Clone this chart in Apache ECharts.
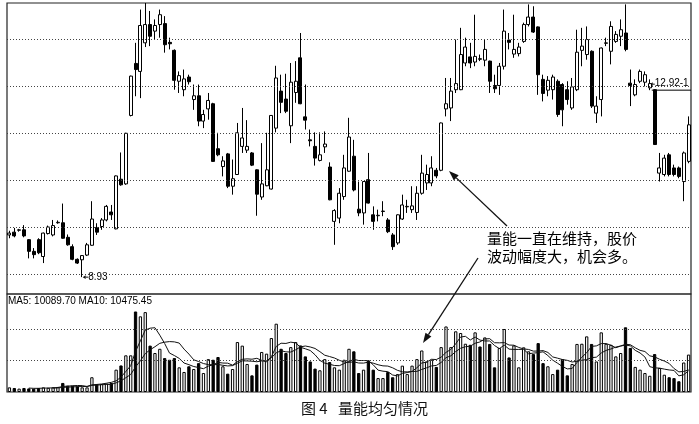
<!DOCTYPE html>
<html>
<head>
<meta charset="utf-8">
<title>量能均匀情况</title>
<script src="https://cdn.jsdelivr.net/npm/echarts@6/dist/echarts.min.js"></script>
<style>
  html, body { margin: 0; padding: 0; background: #fff; }
  #main { width: 699px; height: 424px; }
</style>
</head>
<body>
<div id="main"></div>
<script>
// 日K线 [开, 收, 低, 高]
var candles = [
  [9.83, 9.87, 9.76, 9.92], [9.89, 9.81, 9.78, 9.98], [9.93, 9.94, 9.90, 9.96], [9.94, 9.81, 9.78, 10.04],
  [9.73, 9.48, 9.33, 9.74], [9.48, 9.41, 9.33, 9.55], [9.73, 9.45, 9.42, 9.76], [9.37, 9.87, 9.23, 9.88],
  [9.86, 10.00, 9.84, 10.03], [9.83, 10.03, 9.80, 10.15], [10.09, 10.10, 10.07, 10.14], [10.09, 9.76, 9.75, 10.50],
  [9.78, 9.62, 9.60, 9.84], [9.58, 9.31, 9.29, 9.63], [9.31, 9.23, 9.21, 9.33], [9.30, 9.39, 8.93, 9.40],
  [9.40, 9.62, 9.38, 9.66], [9.61, 10.17, 9.60, 10.55], [9.99, 9.89, 9.83, 10.08], [10.01, 10.15, 9.94, 10.19],
  [10.15, 10.44, 10.12, 10.47], [10.32, 10.26, 10.15, 10.47], [9.96, 11.09, 9.95, 11.10], [11.02, 10.90, 10.88, 11.59],
  [10.92, 12.00, 10.90, 12.01], [12.38, 13.22, 12.36, 13.23], [13.49, 13.36, 12.79, 13.93], [13.32, 14.30, 12.75, 14.64],
  [13.93, 14.32, 13.84, 14.78], [14.32, 14.07, 13.86, 14.61], [14.18, 14.30, 14.00, 14.43], [14.32, 14.53, 14.04, 14.64],
  [14.34, 13.89, 13.72, 14.50], [13.94, 13.91, 13.79, 14.04], [13.77, 13.13, 12.93, 13.79], [13.11, 13.23, 12.86, 13.32],
  [12.93, 13.16, 12.79, 13.36], [13.20, 13.10, 13.04, 13.25], [12.72, 12.80, 12.50, 13.04], [12.80, 12.26, 12.15, 13.04],
  [12.26, 12.40, 12.11, 12.50], [12.52, 12.70, 12.29, 12.86], [12.63, 11.40, 11.39, 12.65], [11.67, 11.54, 11.51, 12.01],
  [11.29, 11.41, 11.08, 11.51], [11.56, 10.87, 10.83, 11.58], [10.87, 11.03, 10.69, 11.44], [11.12, 12.01, 11.11, 12.22],
  [11.72, 11.90, 11.58, 12.54], [11.64, 11.72, 11.58, 12.28], [11.58, 11.32, 11.30, 11.60], [11.22, 10.70, 10.24, 11.23],
  [10.64, 10.92, 10.58, 11.79], [10.88, 11.22, 10.87, 12.01], [10.81, 12.38, 10.80, 12.39], [12.11, 13.18, 12.02, 13.44],
  [12.90, 12.66, 12.43, 13.25], [12.73, 12.47, 12.43, 13.27], [12.16, 13.09, 11.79, 13.50], [12.87, 13.11, 12.65, 13.54],
  [13.61, 12.63, 12.62, 14.14], [12.35, 12.28, 12.08, 13.04], [11.86, 11.84, 11.72, 12.08], [11.72, 11.47, 11.31, 12.02],
  [11.42, 11.54, 11.40, 12.02], [11.71, 11.77, 11.58, 12.04], [11.28, 10.58, 10.57, 11.38], [10.12, 10.35, 9.62, 10.38],
  [10.19, 10.72, 10.08, 10.83], [10.65, 11.26, 10.58, 11.54], [11.19, 11.92, 11.18, 12.33], [11.51, 10.79, 10.76, 11.86],
  [10.38, 10.30, 10.23, 10.97], [10.30, 10.97, 10.05, 10.98], [11.01, 10.51, 10.50, 11.58], [10.26, 10.12, 9.94, 10.44],
  [10.24, 10.25, 10.12, 10.37], [10.33, 10.34, 10.23, 10.55], [10.15, 9.90, 9.87, 10.19], [9.83, 9.58, 9.51, 9.87],
  [9.66, 10.26, 9.62, 10.27], [10.17, 10.47, 10.15, 10.69], [10.43, 10.44, 10.30, 10.58], [10.37, 10.45, 10.30, 10.87],
  [10.31, 10.72, 10.15, 10.87], [10.72, 11.15, 10.69, 11.54], [10.94, 11.12, 10.79, 11.33], [10.94, 11.26, 10.87, 11.51],
  [11.21, 11.09, 11.04, 11.26], [11.21, 12.22, 11.19, 12.23], [12.52, 12.63, 12.36, 13.18], [12.54, 12.90, 12.26, 13.18],
  [12.93, 13.06, 12.86, 14.00], [12.93, 13.68, 12.92, 14.25], [13.50, 13.84, 13.43, 14.04], [13.63, 13.50, 13.39, 13.93],
  [13.52, 13.64, 13.43, 14.53], [13.59, 13.58, 13.54, 13.68], [13.56, 13.79, 13.43, 14.00], [13.54, 13.11, 12.86, 13.55],
  [13.02, 12.95, 12.86, 13.25], [13.02, 13.43, 12.82, 13.50], [13.43, 14.18, 13.36, 14.64], [13.99, 13.94, 13.79, 14.14],
  [13.69, 13.79, 13.61, 14.53], [13.70, 13.84, 13.64, 13.93], [13.96, 14.32, 13.93, 14.36], [14.32, 14.48, 14.28, 14.75],
  [14.48, 14.16, 14.14, 14.71], [14.27, 13.25, 12.82, 14.28], [13.15, 12.85, 12.68, 13.25], [12.92, 13.13, 12.79, 13.22],
  [12.93, 13.20, 12.72, 13.25], [13.11, 12.40, 12.35, 13.15], [13.04, 12.50, 12.15, 13.07], [12.93, 12.72, 12.61, 13.11],
  [12.54, 12.99, 12.50, 13.18], [12.93, 13.73, 12.90, 14.21], [13.77, 13.86, 13.43, 14.25], [13.68, 14.00, 13.57, 14.28],
  [13.75, 12.58, 12.54, 13.77], [12.43, 12.58, 12.22, 12.79], [12.72, 13.82, 12.36, 13.83], [13.92, 13.93, 13.86, 14.04],
  [13.75, 14.28, 13.47, 14.39], [13.96, 14.11, 13.93, 14.18], [14.07, 14.21, 13.86, 14.43], [14.14, 13.79, 13.75, 14.75],
  [13.07, 13.02, 12.58, 13.36], [12.82, 13.04, 12.79, 13.15], [13.11, 13.32, 13.07, 13.36], [13.09, 13.25, 13.00, 13.32],
  [12.97, 13.06, 12.92, 13.15], [12.93, 11.76, 11.75, 12.94], [11.15, 11.26, 10.97, 11.58], [11.12, 11.47, 11.08, 11.54],
  [11.54, 11.12, 11.08, 11.58], [11.26, 11.12, 11.08, 11.33], [11.26, 11.08, 11.04, 11.29], [10.97, 11.58, 10.55, 11.61],
  [11.40, 12.18, 11.36, 12.36]
];
// 成交量
var volumes = [
  2200, 1900, 1600, 1900, 1700, 1600, 1900, 2200, 2000, 2200,
  2400, 4300, 3000, 3000, 2700, 2200, 2200, 7000, 3800, 3800,
  4000, 4300, 10600, 12600, 17400, 17400, 38200, 35900, 37900, 22000,
  18500, 20500, 16100, 15300, 16100, 11700, 9500, 12200, 10900, 13700,
  9000, 15600, 15300, 16600, 12200, 8700, 10900, 23700, 22000, 13300,
  7900, 13000, 19000, 18200, 25600, 32400, 20500, 18500, 21300, 23700,
  22100, 16900, 14500, 11100, 10300, 15600, 14200, 11700, 10600, 15300,
  20500, 19300, 9000, 10600, 15000, 10600, 6600, 6600, 9500, 7000,
  8500, 12500, 8500, 12500, 15600, 19700, 14500, 15300, 11900, 21300,
  31100, 21300, 28800, 28000, 22900, 22400, 28300, 21600, 25900, 22800,
  11700, 20900, 29900, 16400, 22100, 11700, 21200, 19300, 18000, 23200,
  13700, 12200, 8500, 10600, 15600, 7900, 13300, 22800, 22900, 26400,
  22800, 14500, 28300, 22900, 22400, 16900, 18500, 30700, 20900, 11900,
  10600, 9000, 7700, 18000, 11400, 8200, 7000, 6600, 5100, 14000,
  17750
];
var priceLines = [9, 10, 11, 12, 13, 14];
var volumeLines = [15000, 30000];
var lowMark = { index: 15, value: 8.93 };
var gapMark = { index: 132, value: 12.92, text: '12.92-1' };
var maText = 'MA5: 10089.70 MA10: 10475.45';
var note = ['量能一直在维持，股价', '波动幅度大，机会多。'];
var caption = ['图 4', '量能均匀情况'];

var days = candles.map(function (c, i) { return String(i + 1); });

function calcMA(n) {
  var out = [];
  for (var i = 0; i < volumes.length; i++) {
    if (i < n - 1) { out.push('-'); continue; }
    var sum = 0;
    for (var j = 0; j < n; j++) sum += volumes[i - j];
    out.push(+(sum / n).toFixed(2));
  }
  return out;
}

var volData = volumes.map(function (v, i) {
  var up = candles[i][1] >= candles[i][0];
  return {
    value: v,
    itemStyle: up
      ? { color: '#fff', borderColor: '#000', borderWidth: 1 }
      : { color: '#000', borderColor: '#000', borderWidth: 1 }
  };
});

// 箭头：线 + 实心箭头
function arrow(x1, y1, x2, y2, len, w, lw) {
  var a = Math.atan2(y2 - y1, x2 - x1);
  var bx = x2 - len * Math.cos(a), by = y2 - len * Math.sin(a);
  return [
    { type: 'line', shape: { x1: x1, y1: y1, x2: bx, y2: by }, style: { stroke: '#111', lineWidth: lw } },
    { type: 'polygon', shape: { points: [[x2, y2], [bx + w * Math.sin(a), by - w * Math.cos(a)], [bx - w * Math.sin(a), by + w * Math.cos(a)]] }, style: { fill: '#111' } }
  ];
}

var dotted = { color: '#444', type: [1, 2], width: 1 };
var cjk = '"Noto Sans CJK SC", sans-serif';
var gridRight = 691;

var chart = echarts.init(document.getElementById('main'));
chart.setOption({
  animation: false,
  backgroundColor: '#fff',
  grid: [
    { left: 7, top: 3, width: 684, height: 291, show: true, borderColor: '#222', borderWidth: 1.2, backgroundColor: 'transparent' },
    { left: 7, top: 294, width: 684, height: 98, show: true, borderColor: '#222', borderWidth: 1.2, backgroundColor: 'transparent' }
  ],
  xAxis: [
    { type: 'category', data: days, gridIndex: 0, boundaryGap: true, axisLine: { show: false }, axisTick: { show: false }, axisLabel: { show: false }, splitLine: { show: false } },
    { type: 'category', data: days, gridIndex: 1, boundaryGap: true, axisLine: { show: false }, axisTick: { show: false }, axisLabel: { show: false }, splitLine: { show: false } }
  ],
  yAxis: [
    { type: 'value', gridIndex: 0, min: 8.57, max: 14.78, axisLine: { show: false }, axisTick: { show: false }, axisLabel: { show: false }, splitLine: { show: false } },
    { type: 'value', gridIndex: 1, min: 0, max: 46500, axisLine: { show: false }, axisTick: { show: false }, axisLabel: { show: false }, splitLine: { show: false } }
  ],
  series: [
    {
      type: 'candlestick',
      xAxisIndex: 0,
      yAxisIndex: 0,
      data: candles,
      barWidth: '72%',
      itemStyle: { color: '#fff', color0: '#000', borderColor: '#000', borderColor0: '#000', borderWidth: 1 },
      markLine: {
        silent: true,
        symbol: ['none', 'none'],
        label: { show: false },
        lineStyle: dotted,
        data: priceLines.map(function (v) { return { yAxis: v }; })
      }
    },
    {
      type: 'bar',
      xAxisIndex: 1,
      yAxisIndex: 1,
      data: volData,
      barWidth: '68%',
      markLine: {
        silent: true,
        symbol: ['none', 'none'],
        label: { show: false },
        lineStyle: dotted,
        data: volumeLines.map(function (v) { return { yAxis: v }; })
      }
    },
    { type: 'line', xAxisIndex: 1, yAxisIndex: 1, data: calcMA(5), showSymbol: false, lineStyle: { color: '#111', width: 1 } },
    { type: 'line', xAxisIndex: 1, yAxisIndex: 1, data: calcMA(10), showSymbol: false, lineStyle: { color: '#111', width: 1 } }
  ]
});

// 标注位置由坐标轴换算
var lowPt = chart.convertToPixel({ seriesIndex: 0 }, [lowMark.index, lowMark.value]);
var gapPt = chart.convertToPixel({ seriesIndex: 0 }, [gapMark.index, gapMark.value]);

var marks = [
  { type: 'text', left: 8, top: 296, style: { text: maText, font: '10px "Liberation Sans"', fill: '#000' } },
  { type: 'text', left: 487, top: 231, style: { text: note[0], font: '15px ' + cjk, fill: '#000' } },
  { type: 'text', left: 487, top: 249, style: { text: note[1], font: '15px ' + cjk, fill: '#000' } },
  { type: 'text', left: 301, top: 401, style: { text: caption[0], font: '15px ' + cjk, fill: '#111' } },
  { type: 'text', left: 338, top: 401, style: { text: caption[1], font: '15px ' + cjk, fill: '#111' } },
  // 最低价
  { type: 'text', x: lowPt[0] + 6, y: lowPt[1], style: { text: lowMark.value.toFixed(2), font: '10px "Liberation Sans"', fill: '#000', verticalAlign: 'middle' } },
  // 缺口价
  { type: 'line', shape: { x1: gapPt[0] + 2, y1: gapPt[1], x2: gridRight, y2: gapPt[1] }, style: { stroke: '#000', lineWidth: 1 } },
  { type: 'text', x: gapPt[0] + 5, y: gapPt[1] - 2, style: { text: gapMark.text, font: '10px "Liberation Sans"', fill: '#000', verticalAlign: 'bottom' } }
];
marks = marks
  .concat(arrow(lowPt[0] + 6, lowPt[1], lowPt[0] + 0.5, lowPt[1], 3, 1.8, 1))
  .concat(arrow(gapPt[0] + 5, gapPt[1] - 6, gapPt[0], gapPt[1] - 6, 3, 1.8, 1))
  .concat(arrow(507, 226, 449, 171, 10, 3.5, 1.3))
  .concat(arrow(478, 258, 423, 343, 10, 3.5, 1.3));

chart.setOption({ graphic: marks });
</script>
</body>
</html>
